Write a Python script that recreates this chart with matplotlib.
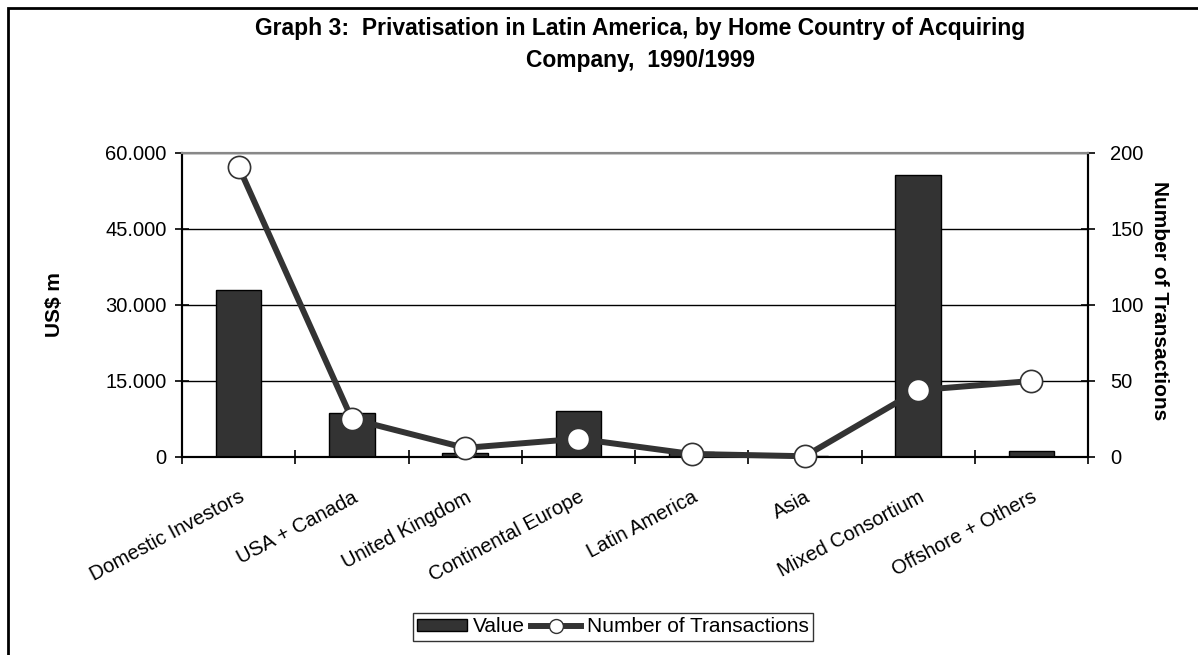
import matplotlib.pyplot as plt
import matplotlib.patches as mpatches
import matplotlib.transforms as mtransforms
from matplotlib.ticker import FuncFormatter, FixedLocator

plt.rcParams['font.family'] = ['Liberation Sans', 'DejaVu Sans']

# data
countries = ["Domestic Investors", "USA + Canada", "United Kingdom", "Continental Europe",
             "Latin America", "Asia", "Mixed Consortium", "Offshore + Others"]
value = [33000, 8700, 800, 9100, 1000, 100, 55700, 1100]          # US$ m
transactions = [191, 25, 6, 12, 2, 0.5, 44, 50]

dark = '#333333'
W, H = 1198, 655

fig = plt.figure(figsize=(11.98, 6.55), dpi=100)
ax = fig.add_axes([182 / W, 1 - 457 / H, 906 / W, 304 / H])
ax2 = ax.twinx()

x = list(range(len(countries)))
ax.bar(x, value, width=0.4, color=dark, edgecolor='black', linewidth=1, zorder=3)
ax2.plot(x, transactions, color=dark, linewidth=4.3, marker='o', markersize=16,
         markerfacecolor='white', markeredgecolor=dark, markeredgewidth=1.2,
         zorder=4, clip_on=False)

ax.set_xlim(-0.5, len(countries) - 0.5)
ax.set_ylim(0, 60000)
ax2.set_ylim(0, 200)
ax.set_yticks([0, 15000, 30000, 45000, 60000])
ax2.set_yticks([0, 50, 100, 150, 200])
ax.yaxis.set_major_formatter(FuncFormatter(lambda v, p: f"{int(v):,}".replace(",", ".")))
ax.yaxis.grid(True, color='black', linewidth=1)
ax.set_axisbelow(True)

# category labels sit between the boundary ticks
ax.xaxis.set_major_locator(FixedLocator([i + 0.5 for i in range(-1, len(countries))]))
ax.xaxis.set_major_formatter(FuncFormatter(lambda v, p: ""))
ax.set_xticks(x, minor=True)
ax.set_xticklabels(countries, minor=True, rotation=28, ha='right', va='top',
                   rotation_mode='anchor', fontsize=14.5)
offset = mtransforms.ScaledTranslation(-0.22, 0, fig.dpi_scale_trans)
for lbl in ax.get_xticklabels(minor=True):
    lbl.set_transform(lbl.get_transform() + offset)
ax.tick_params(axis='x', which='minor', length=0, pad=22)
ax.tick_params(axis='x', which='major', direction='inout', length=10, width=1.2)
ax.tick_params(axis='y', direction='inout', length=10, width=1.2, labelsize=14.5, pad=6)
ax2.tick_params(axis='y', direction='inout', length=10, width=1.2, labelsize=14.5, pad=11)

for a in (ax, ax2):
    a.spines['top'].set_color('#888888')
    a.spines['top'].set_linewidth(1.5)
    for s in ('left', 'right', 'bottom'):
        a.spines[s].set_linewidth(1.5)
        a.spines[s].set_color('black')

fig.text(55 / W, 1 - 305 / H, "US$ m", rotation=90, ha='center', va='center',
         fontsize=15, fontweight='bold')
fig.text(1160 / W, 1 - 301 / H, "Number of Transactions", rotation=-90,
         ha='center', va='center', fontsize=15, fontweight='bold')

fig.text(640 / W, 1 - 17 / H,
         "Graph 3:  Privatisation in Latin America, by Home Country of Acquiring\nCompany,  1990/1999",
         ha='center', va='top', fontsize=16.5, fontweight='bold', linespacing=1.5)

bar_handle = mpatches.Patch(facecolor=dark, edgecolor='black')
line_handle = plt.Line2D([], [], color=dark, linewidth=4.3, marker='o', markersize=10,
                         markerfacecolor='white', markeredgecolor=dark)
fig.legend([bar_handle, line_handle], ["Value", "Number of Transactions"],
           loc='center', bbox_to_anchor=(613 / W, 1 - 627 / H), ncol=2, fontsize=15,
           frameon=True, fancybox=False, edgecolor='black', handlelength=2.4,
           handleheight=0.5, handletextpad=0.3, columnspacing=0.3, borderpad=0.2,
           borderaxespad=0)

# outer frame of the chart area
fig.add_artist(mpatches.Rectangle((8 / W, -0.1), 1.2, 1.1 - 8 / H,
                                  transform=fig.transFigure, fill=False,
                                  edgecolor='black', linewidth=2))

fig.savefig("out.png", dpi=100)
